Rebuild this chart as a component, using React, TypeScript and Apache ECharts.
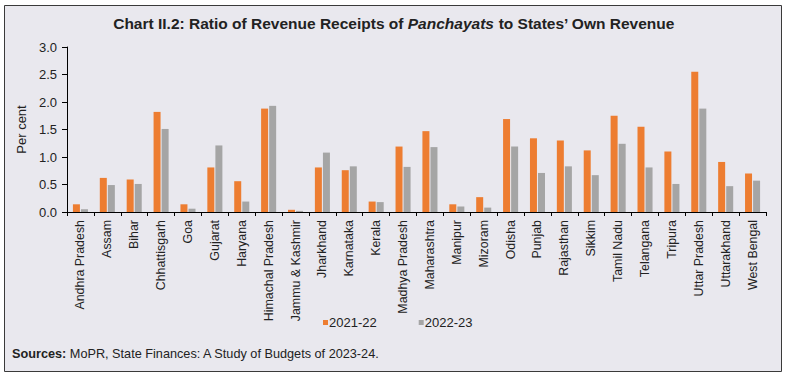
import React, { useEffect, useRef } from "react";
import * as echarts from "echarts";

const states = [
  "Andhra Pradesh", "Assam", "Bihar", "Chhattisgarh", "Goa", "Gujarat", "Haryana",
  "Himachal Pradesh", "Jammu & Kashmir", "Jharkhand", "Karnataka", "Kerala",
  "Madhya Pradesh", "Maharashtra", "Manipur", "Mizoram", "Odisha", "Punjab",
  "Rajasthan", "Sikkim", "Tamil Nadu", "Telangana", "Tripura", "Uttar Pradesh",
  "Uttarakhand", "West Bengal",
];
const values2122 = [
  0.14, 0.62, 0.59, 1.82, 0.14, 0.81, 0.56, 1.88, 0.04, 0.81, 0.76, 0.19, 1.19,
  1.47, 0.14, 0.27, 1.69, 1.34, 1.30, 1.12, 1.75, 1.55, 1.10, 2.55, 0.91, 0.70,
];
const values2223 = [
  0.05, 0.49, 0.51, 1.51, 0.06, 1.21, 0.19, 1.93, 0.02, 1.08, 0.83, 0.18, 0.82,
  1.18, 0.10, 0.08, 1.19, 0.71, 0.83, 0.67, 1.24, 0.81, 0.51, 1.88, 0.47, 0.57,
];
const seriesNames = ["2021-22", "2022-23"];
const yTicks = { min: 0, max: 3, interval: 0.5 };

export default function App() {
  const ref = useRef<HTMLDivElement>(null);
  useEffect(() => {
    if (!ref.current) return;
    const chart = echarts.init(ref.current, null, { renderer: "svg" });
    const font = "Arial";
    chart.setOption({
      animation: false,
      backgroundColor: "#ffffff",
      textStyle: { fontFamily: font },
      graphic: [
        {
          type: "rect",
          z: -10,
          shape: { x: 4.5, y: 5.5, width: 777, height: 366 },
          style: { fill: "#E9E8EE", stroke: "#3a3a3a", lineWidth: 1 },
        },
        {
          type: "text",
          left: 12,
          top: 347,
          style: {
            text: "{b|Sources:} MoPR, State Finances: A Study of Budgets of 2023-24.",
            fontSize: 12.7,
            fill: "#222",
            fontFamily: font,
            rich: { b: { fontWeight: "bold", fontSize: 12.7, fill: "#222", fontFamily: font } },
          },
        },
      ],
      title: {
        text: "{b|Chart II.2: Ratio of Revenue Receipts of }{i|Panchayats}{b| to States’ Own Revenue}",
        left: "center",
        top: 10,
        textStyle: {
          rich: {
            b: { fontWeight: "bold", fontSize: 15.5, color: "#222", fontFamily: font },
            i: { fontWeight: "bold", fontStyle: "italic", fontSize: 15.5, color: "#222", fontFamily: font },
          },
        },
      },
      legend: {
        data: seriesNames,
        top: 311,
        left: 318,
        itemWidth: 5,
        itemHeight: 5,
        itemGap: 42,
        icon: "rect",
        textStyle: { fontSize: 13, color: "#222", padding: [0, 0, 0, -4], fontFamily: font },
      },
      grid: { left: 67, right: 22, top: 47, bottom: 165 },
      xAxis: {
        type: "category",
        data: states,
        axisLine: { lineStyle: { color: "#000", width: 1 } },
        axisTick: { show: true, length: 4, lineStyle: { color: "#000" } },
        axisLabel: { rotate: 90, fontSize: 12.4, color: "#222", margin: 8, interval: 0, fontFamily: font },
      },
      yAxis: {
        type: "value",
        min: yTicks.min,
        max: yTicks.max,
        interval: yTicks.interval,
        name: "Per cent",
        nameLocation: "middle",
        nameGap: 32,
        nameTextStyle: { fontSize: 13, color: "#222", fontFamily: font },
        axisLine: { show: true, lineStyle: { color: "#000", width: 1 } },
        axisTick: { show: true, length: 5, lineStyle: { color: "#000" } },
        axisLabel: { fontSize: 13, color: "#222", margin: 10, fontFamily: font, formatter: (v: number) => v.toFixed(1) },
        splitLine: { show: false },
      },
      series: [
        {
          name: seriesNames[0],
          type: "bar",
          data: values2122,
          barWidth: 7,
          barGap: "15%",
          itemStyle: { color: "#ED7D31" },
        },
        {
          name: seriesNames[1],
          type: "bar",
          data: values2223,
          barWidth: 7,
          barGap: "15%",
          itemStyle: { color: "#A5A5A5" },
        },
      ],
    });
    return () => chart.dispose();
  }, []);
  return (
    <div
      ref={ref}
      style={{ position: "fixed", left: 0, top: 0, width: 788, height: 377 }}
    />
  );
}
